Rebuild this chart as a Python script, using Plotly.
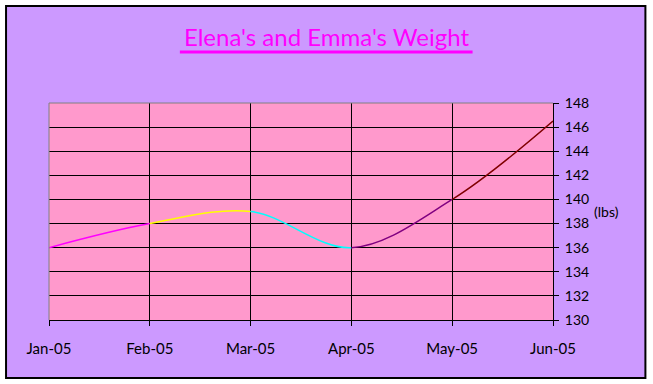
import plotly.graph_objects as go

months = ["Jan-05", "Feb-05", "Mar-05", "Apr-05", "May-05", "Jun-05"]
weight = [136, 138, 139, 136, 140, 146.5]
segment_colors = ["#FF00FF", "#FFFF00", "#00FFFF", "#800080", "#800000"]
y_ticks = list(range(130, 149, 2))

W, H = 653, 384
L, R, T, B = 49, 99.5, 103, 64
pw = W - L - R
ph = H - T - B


def px(x):
    return (x - L) / pw


def py(y):
    return (H - B - y) / ph


FONT = "Comic Sans MS, Lato, sans-serif"
nseg = len(months) - 1

fig = go.Figure()
# invisible carrier trace on the main axes (grid, ticks)
fig.add_trace(go.Scatter(x=months, y=weight, mode="lines",
                         line=dict(color="rgba(0,0,0,0)", width=0),
                         showlegend=False, hoverinfo="skip"))
# each coloured segment: the full smoothed series, clipped to its own month span
for i, c in enumerate(segment_colors):
    fig.add_trace(go.Scatter(
        x=months, y=weight, mode="lines", xaxis=f"x{i + 2}", yaxis="y",
        line=dict(color=c, width=1.5, shape="spline", smoothing=1),
        showlegend=False, hoverinfo="skip"))

layout_axes = {}
for i in range(nseg):
    layout_axes[f"xaxis{i + 2}"] = dict(
        type="category", categoryorder="array", categoryarray=months,
        domain=[i / nseg, (i + 1) / nseg], range=[i, i + 1], anchor="y",
        visible=False, showgrid=False, zeroline=False, fixedrange=True)

fig.update_layout(
    width=W, height=H,
    margin=dict(l=L, r=R, t=T, b=B, pad=0),
    paper_bgcolor="white",
    plot_bgcolor="rgba(0,0,0,0)",
    font=dict(family=FONT, color="black", size=14),
    title=dict(text="Elena's and Emma's Weight", x=0.5, xanchor="center",
               xref="container", y=1 - 38 / H, yanchor="middle", yref="container",
               font=dict(family=FONT, size=24, color="#FF00FF")),
    xaxis=dict(type="category", categoryorder="array", categoryarray=months,
               domain=[0, 1], range=[0, nseg], showgrid=True, gridcolor="black", gridwidth=1,
               showline=True, linecolor="black", linewidth=1, ticks="outside",
               ticklen=5, tickcolor="black", tickfont=dict(size=15, color="black"),
               ticklabelstandoff=10, zeroline=False, fixedrange=True, anchor="y"),
    yaxis=dict(side="right", range=[130, 148], tickvals=y_ticks, anchor="x",
               showgrid=True, gridcolor="black", gridwidth=1,
               showline=True, linecolor="black", linewidth=1, ticks="outside",
               ticklen=5, tickcolor="black", tickfont=dict(size=14, color="black"),
               ticklabelstandoff=3, zeroline=False, fixedrange=True),
    shapes=[
        dict(type="rect", xref="paper", yref="paper", x0=px(6), x1=px(646),
             y0=py(378), y1=py(6), fillcolor="#CC99FF",
             line=dict(color="black", width=2), layer="below"),
        dict(type="rect", xref="paper", yref="paper", x0=0, x1=1, y0=0, y1=1,
             fillcolor="#FF99CC", line=dict(width=0), layer="below"),
        dict(type="line", xref="paper", yref="paper", x0=0, x1=1, y0=1, y1=1,
             line=dict(color="#808080", width=1), layer="above"),
        dict(type="line", xref="paper", yref="paper", x0=0, x1=0, y0=0, y1=1,
             line=dict(color="#808080", width=1), layer="above"),
        dict(type="line", xref="paper", yref="paper", x0=px(180), x1=px(473),
             y0=py(52), y1=py(52), line=dict(color="#FF00FF", width=3)),
    ],
    annotations=[
        dict(text="(lbs)", xref="paper", yref="paper", x=px(607), y=py(211),
             xanchor="center", yanchor="middle", showarrow=False,
             font=dict(size=14, color="black")),
    ],
    **layout_axes,
)

fig.write_html("out.html", config={"displayModeBar": False},
               post_script="document.body.style.margin='0';")
